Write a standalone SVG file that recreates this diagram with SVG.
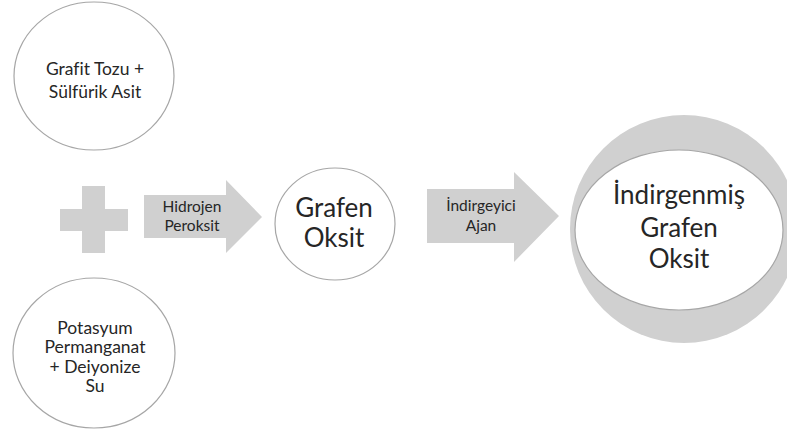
<svg xmlns="http://www.w3.org/2000/svg" width="787" height="444" viewBox="0 0 787 444">
<style>
.c{fill:#fff;stroke:#a6a6a6;stroke-width:1.2}
.g{fill:#d0d0d0;stroke:none}
text{font-family:Lato,"Open Sans","Liberation Sans",sans-serif;fill:#262626;text-anchor:middle;font-variant-ligatures:none}
.s{font-size:17.5px}
.a{font-size:15.5px}
.b{font-size:26px}
</style>
<rect width="787" height="444" fill="#fff"/>
<g id="grafit">
<ellipse class="c" cx="94" cy="76" rx="80" ry="74"/>
<text class="s" x="95" y="75">Grafit Tozu +</text>
<text class="s" x="95" y="98">Sülfürik Asit</text>
</g>
<g id="plus">
<path class="g" d="M82,186H105V209H128V231H105V253H82V231H60V209H82Z"/>
</g>
<g id="potasyum">
<ellipse class="c" cx="94" cy="353" rx="81" ry="75"/>
<text class="s" x="95" y="334">Potasyum</text>
<text class="s" x="95" y="353">Permanganat</text>
<text class="s" x="95" y="373">+ Deiyonize</text>
<text class="s" x="95" y="392">Su</text>
</g>
<g id="connectors">
<g id="arrow1">
<path class="g" d="M144,195H226V180L262,217L226,253V238H144Z"/>
<text class="a" x="192" y="212">Hidrojen</text>
<text class="a" x="192" y="231">Peroksit</text>
</g>
<g id="arrow2">
<path class="g" d="M427,189H514V172L559,216L514,262V243H427Z"/>
<text class="a" x="481" y="211">İndirgeyici</text>
<text class="a" x="481" y="231">Ajan</text>
</g>
</g>
<g id="grafen">
<ellipse class="c" cx="335" cy="224" rx="60" ry="56"/>
<text class="b" x="334" y="217">Grafen</text>
<text class="b" x="334" y="247">Oksit</text>
</g>
<g id="indirgenmis">
<circle class="g" cx="684" cy="229" r="114"/>
<ellipse class="c" cx="679" cy="230" rx="104" ry="80"/>
<text class="b" x="679" y="204">İndirgenmiş</text>
<text class="b" x="679" y="237">Grafen</text>
<text class="b" x="679" y="268">Oksit</text>
</g>
</svg>
